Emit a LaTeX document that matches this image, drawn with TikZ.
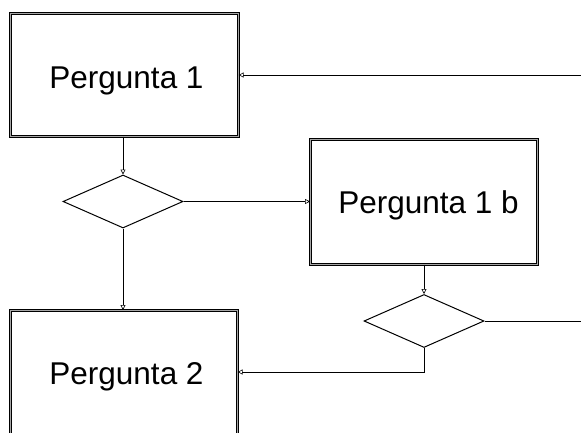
\documentclass[tikz,border=0pt]{standalone}
\usepackage{fontspec}
\setmainfont{Liberation Sans}
\usetikzlibrary{shapes.geometric,arrows.meta}
\begin{document}
\begin{tikzpicture}[x=1pt,y=-1pt,
  qbox/.style={draw=black, line width=0.6pt, double=gray!70, double distance=1.4pt, fill=white, anchor=north west, inner sep=0pt},
  qtext/.style={anchor=base, inner sep=0pt, font=\fontsize{31.5}{36}\selectfont},
  dec/.style={diamond, draw=black, line width=1pt, fill=white, minimum width=120pt, minimum height=53pt, inner sep=0pt, aspect=2.26},
  conn/.style={draw=black, line width=0.6pt},
  arr/.style={conn, -{Triangle[open, length=5pt, width=5pt]}}]
\clip (0,0) rectangle (581,432);
\fill[white] (0,0) rectangle (581,432);
\node[qbox, minimum width=228pt, minimum height=123pt] (p1) at (10,13) {};
\node[qbox, minimum width=227pt, minimum height=125pt] (p1b) at (310,139) {};
\node[qbox, minimum width=227pt, minimum height=140pt] (p2) at (10,310) {};
\node[qtext] (t1) at (126.5,88) {Pergunta 1};
\node[qtext] (t1b) at (428.5,213) {Pergunta 1 b};
\node[qtext] (t2) at (126.5,384) {Pergunta 2};
\node[dec] (d1) at (123,201.5) {};
\node[dec] (d2) at (424,321) {};
\coordinate (e1) at (581,75);
\coordinate (e2) at (581,321);
\coordinate (k) at (424,372);
\draw[arr] (e1) -- (p1.east |- e1);
\draw[arr] (p1.south -| d1.north) -- (d1.north);
\draw[arr] (d1.east) -- (p1b.west |- d1.east);
\draw[arr] (p1b.south -| d2.north) -- (d2.north);
\draw[conn] (d2.east) -- (e2);
\draw[arr] (d2.south) -- (k) -- (p2.east |- k);
\draw[arr] (d1.south) -- (p2.north -| d1.south);
\end{tikzpicture}
\end{document}
